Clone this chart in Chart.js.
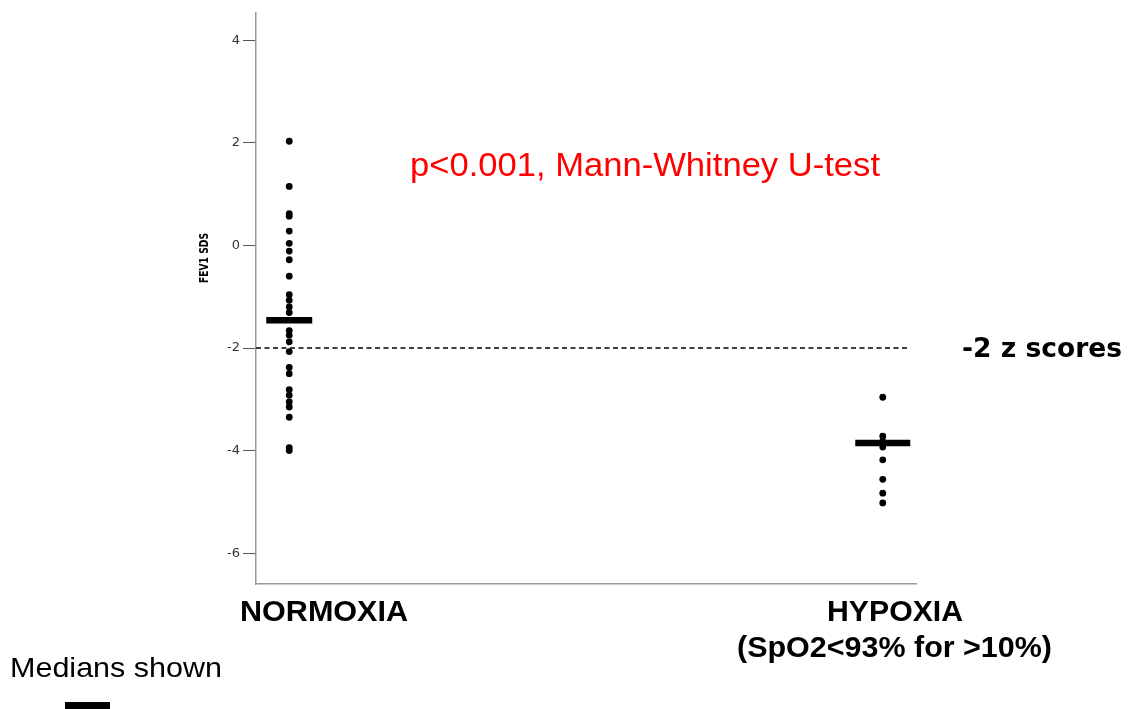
<!DOCTYPE html>
<html>
<head>
<meta charset="utf-8">
<script src="https://cdn.jsdelivr.net/npm/chart.js@4/dist/chart.umd.min.js"></script>
<style>
html,body{margin:0;padding:0;background:#fff;}
#wrap{width:1134px;height:709px;position:relative;}
</style>
</head>
<body>
<div id="wrap"><canvas id="c" width="1134" height="709"></canvas></div>
<script>
// ---- data ----
const categories = ['NORMOXIA', 'HYPOXIA'];
const categorySubLabels = ['', '(SpO2<93% for >10%)'];
const normoxiaValues = [2.03, 1.15, 0.62, 0.57, 0.28, 0.04, -0.11, -0.28, -0.60, -0.96, -1.07, -1.20, -1.31,
  -1.66, -1.75, -1.88, -2.07, -2.38, -2.50, -2.81, -2.92, -3.05, -3.15, -3.35, -3.94, -4.00];
const hypoxiaValues = [-2.96, -3.72, -3.82, -3.93, -4.18, -4.56, -4.83, -5.02];
const medianValues = [-1.46, -3.85];
const yTicks = [-6, -4, -2, 0, 2, 4];
const referenceValue = -2;
const yAxisTitle = 'FEV1 SDS';
const annotationText = 'p<0.001, Mann-Whitney U-test';
const referenceLabel = '-2 z scores';
const legendText = 'Medians shown';

const toPts = (vals, xi) => vals.map(v => ({x: xi, y: v}));

function fitText(ctx, text, cx, by, font, width, color) {
  ctx.save();
  ctx.font = font;
  ctx.fillStyle = color;
  ctx.textBaseline = 'alphabetic';
  ctx.textAlign = 'center';
  const w = ctx.measureText(text).width;
  const s = width ? width / w : 1;
  ctx.translate(cx, by);
  ctx.scale(s, 1);
  ctx.fillText(text, 0, 0);
  ctx.restore();
}

const decor = {
  id: 'decor',
  beforeDatasetsDraw(chart) {
    const {ctx, chartArea, scales} = chart;
    const y = scales.y.getPixelForValue(referenceValue);
    ctx.save();
    ctx.strokeStyle = '#000';
    ctx.lineWidth = 1.3;
    ctx.setLineDash([5, 3.5]);
    ctx.beginPath();
    ctx.moveTo(chartArea.left, y);
    ctx.lineTo(chartArea.right - 6, y);
    ctx.stroke();
    ctx.restore();
  },
  afterDraw(chart) {
    const {ctx, scales} = chart;
    const yRef = scales.y.getPixelForValue(referenceValue);
    fitText(ctx, annotationText, 645, 176, '34px "Liberation Sans", Arial, sans-serif', 470, '#ff0000');
    fitText(ctx, referenceLabel, 1042, yRef + 9, 'bold 27px "DejaVu Sans", sans-serif', 160, '#000');
    fitText(ctx, categories[0], 324, 621, 'bold 29px "Liberation Sans", Arial, sans-serif', 168, '#000');
    fitText(ctx, categories[1], 895, 621, 'bold 29px "Liberation Sans", Arial, sans-serif', 136, '#000');
    fitText(ctx, categorySubLabels[1], 894.5, 657, 'bold 29px "Liberation Sans", Arial, sans-serif', 315, '#000');
    fitText(ctx, legendText, 116, 677, '28px "Liberation Sans", Arial, sans-serif', 212, '#000');
    ctx.save();
    ctx.translate(208, 258);
    ctx.rotate(-Math.PI / 2);
    fitText(ctx, yAxisTitle, 0, 0, 'bold 13px "DejaVu Sans", sans-serif', 50, '#000');
    ctx.restore();
    ctx.save();
    ctx.fillStyle = '#000';
    ctx.fillRect(65, 702, 45, 10);
    ctx.restore();
  }
};

new Chart(document.getElementById('c'), {
  type: 'scatter',
  data: {
    datasets: [
      {label: categories[0], data: toPts(normoxiaValues, 1), backgroundColor: '#000', borderColor: '#000',
       pointRadius: 3.4, pointHoverRadius: 3.4, borderWidth: 0},
      {label: categories[1], data: toPts(hypoxiaValues, 2), backgroundColor: '#000', borderColor: '#000',
       pointRadius: 3.4, pointHoverRadius: 3.4, borderWidth: 0},
      {label: 'Median', data: medianValues.map((v, i) => ({x: i + 1, y: v})), pointStyle: 'line',
       pointRadius: [23, 27.5], pointHoverRadius: [23, 27.5], borderColor: '#000', backgroundColor: '#000',
       pointBorderWidth: 6.5, pointHoverBorderWidth: 6.5}
    ]
  },
  options: {
    responsive: false,
    animation: false,
    events: [],
    layout: {autoPadding: false, padding: {left: 0, top: 13, right: 218, bottom: 125}},
    plugins: {legend: {display: false}, tooltip: {enabled: false}},
    scales: {
      x: {
        type: 'linear', min: 0.944, max: 2.056,
        ticks: {display: false},
        grid: {display: false},
        border: {display: true, color: '#9a9a9a', width: 1.5},
        afterFit: (a) => { a.height = 0; }
      },
      y: {
        type: 'linear', min: -6.6, max: 4.53,
        afterBuildTicks: (a) => { a.ticks = yTicks.map(v => ({value: v})); },
        afterFit: (a) => { a.width = 256; a.paddingTop = 0; a.paddingBottom = 0; },
        ticks: {color: '#333', font: {family: '"DejaVu Sans", sans-serif', size: 13}, padding: 3},
        grid: {display: true, drawOnChartArea: false, drawTicks: true, tickLength: 13, color: '#555', lineWidth: 1},
        border: {display: true, color: '#9a9a9a', width: 1.5}
      }
    }
  },
  plugins: [decor]
});
</script>
</body>
</html>
